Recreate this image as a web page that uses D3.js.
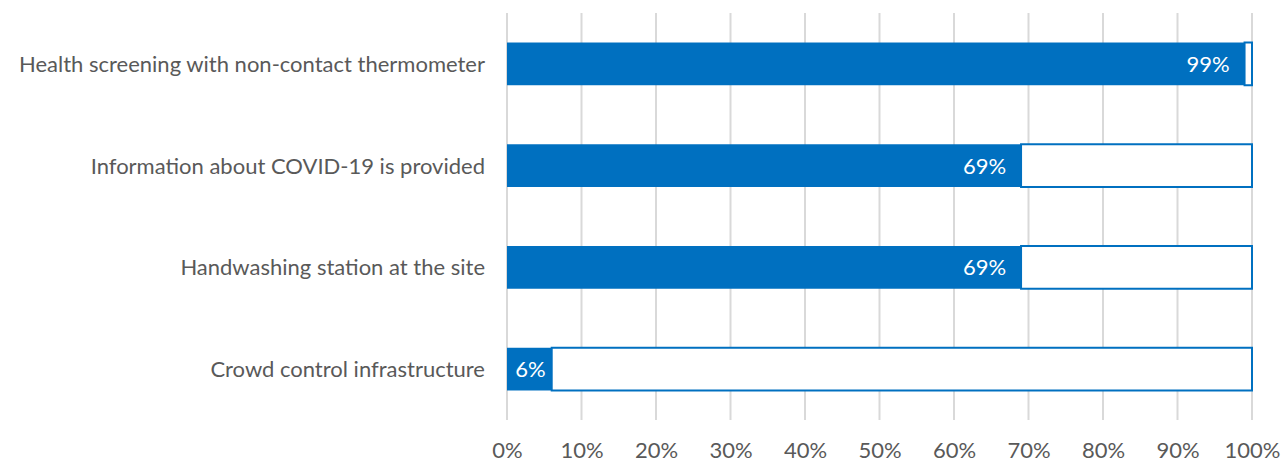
<!DOCTYPE html>
<html>
<head>
<meta charset="utf-8">
<script src="https://cdn.jsdelivr.net/npm/d3@7"></script>
<style>
  html, body { margin: 0; padding: 0; background: #fff; }
  svg { display: block; }
  text { font-family: Lato, "Open Sans", sans-serif; }
</style>
</head>
<body>
<svg id="chart" width="1281" height="462"></svg>
<script>
// Share of sites with each safety measure in place
const categories = [
  "Health screening with non-contact thermometer",
  "Information about COVID-19 is provided",
  "Handwashing station at the site",
  "Crowd control infrastructure"
];
const values = [99, 69, 69, 6];
const tickValues = [0, 10, 20, 30, 40, 50, 60, 70, 80, 90, 100];

const svg = d3.select("#chart");
const margin = { top: 13, right: 29, bottom: 42, left: 507 };
const W = 1281, H = 462;
const innerW = W - margin.left - margin.right;
const innerH = H - margin.top - margin.bottom;

const blue = "#0070C0";
const fontSize = "22px";

const x = d3.scaleLinear().domain([0, 100]).range([0, innerW]);
const y = d3.scaleBand().domain(categories).range([0, innerH])
  .paddingInner(0.58).paddingOuter(0.29);

const g = svg.append("g").attr("transform", `translate(${margin.left},${margin.top})`);

// vertical gridlines
g.append("g").selectAll("line").data(tickValues).join("line")
  .attr("x1", d => x(d)).attr("x2", d => x(d))
  .attr("y1", 0).attr("y2", innerH)
  .attr("stroke", "#d9d9d9").attr("stroke-width", 2);

// x axis labels
const xAxis = d3.axisBottom(x).tickValues(tickValues).tickFormat(d => d + "%").tickSize(0).tickPadding(0);
const ax = g.append("g").attr("transform", `translate(0,${innerH})`).call(xAxis);
ax.select(".domain").remove();
ax.selectAll("text")
  .attr("y", 38).attr("dy", null)
  .attr("fill", "#595959").style("font-size", fontSize).style("font-family", "Lato, sans-serif");

const rows = categories.map((c, i) => ({ c, v: values[i] }));

// remainder (outlined) segments
g.append("g").selectAll("rect").data(rows).join("rect")
  .attr("x", d => x(d.v)).attr("y", d => y(d.c))
  .attr("width", d => x(100) - x(d.v)).attr("height", y.bandwidth())
  .attr("fill", "#fff").attr("stroke", blue).attr("stroke-width", 2);

// filled segments
g.append("g").selectAll("rect").data(rows).join("rect")
  .attr("x", x(0)).attr("y", d => y(d.c))
  .attr("width", d => x(d.v) - x(0)).attr("height", y.bandwidth())
  .attr("fill", blue);

// value labels
g.append("g").selectAll("text").data(rows).join("text")
  .attr("x", d => (x(d.v) - x(0) > 80) ? x(d.v) - 15 : (x(0) + x(d.v)) / 2 + 1)
  .attr("y", d => y(d.c) + y.bandwidth() / 2)
  .attr("dy", "0.36em")
  .attr("text-anchor", d => (x(d.v) - x(0) > 80) ? "end" : "middle")
  .attr("fill", "#fff").style("font-size", fontSize)
  .text(d => d.v + "%");

// category labels
g.append("g").selectAll("text").data(rows).join("text")
  .attr("x", -22)
  .attr("y", d => y(d.c) + y.bandwidth() / 2)
  .attr("dy", "0.36em")
  .attr("text-anchor", "end")
  .attr("fill", "#595959").style("font-size", fontSize)
  .text(d => d.c);
</script>
</body>
</html>
